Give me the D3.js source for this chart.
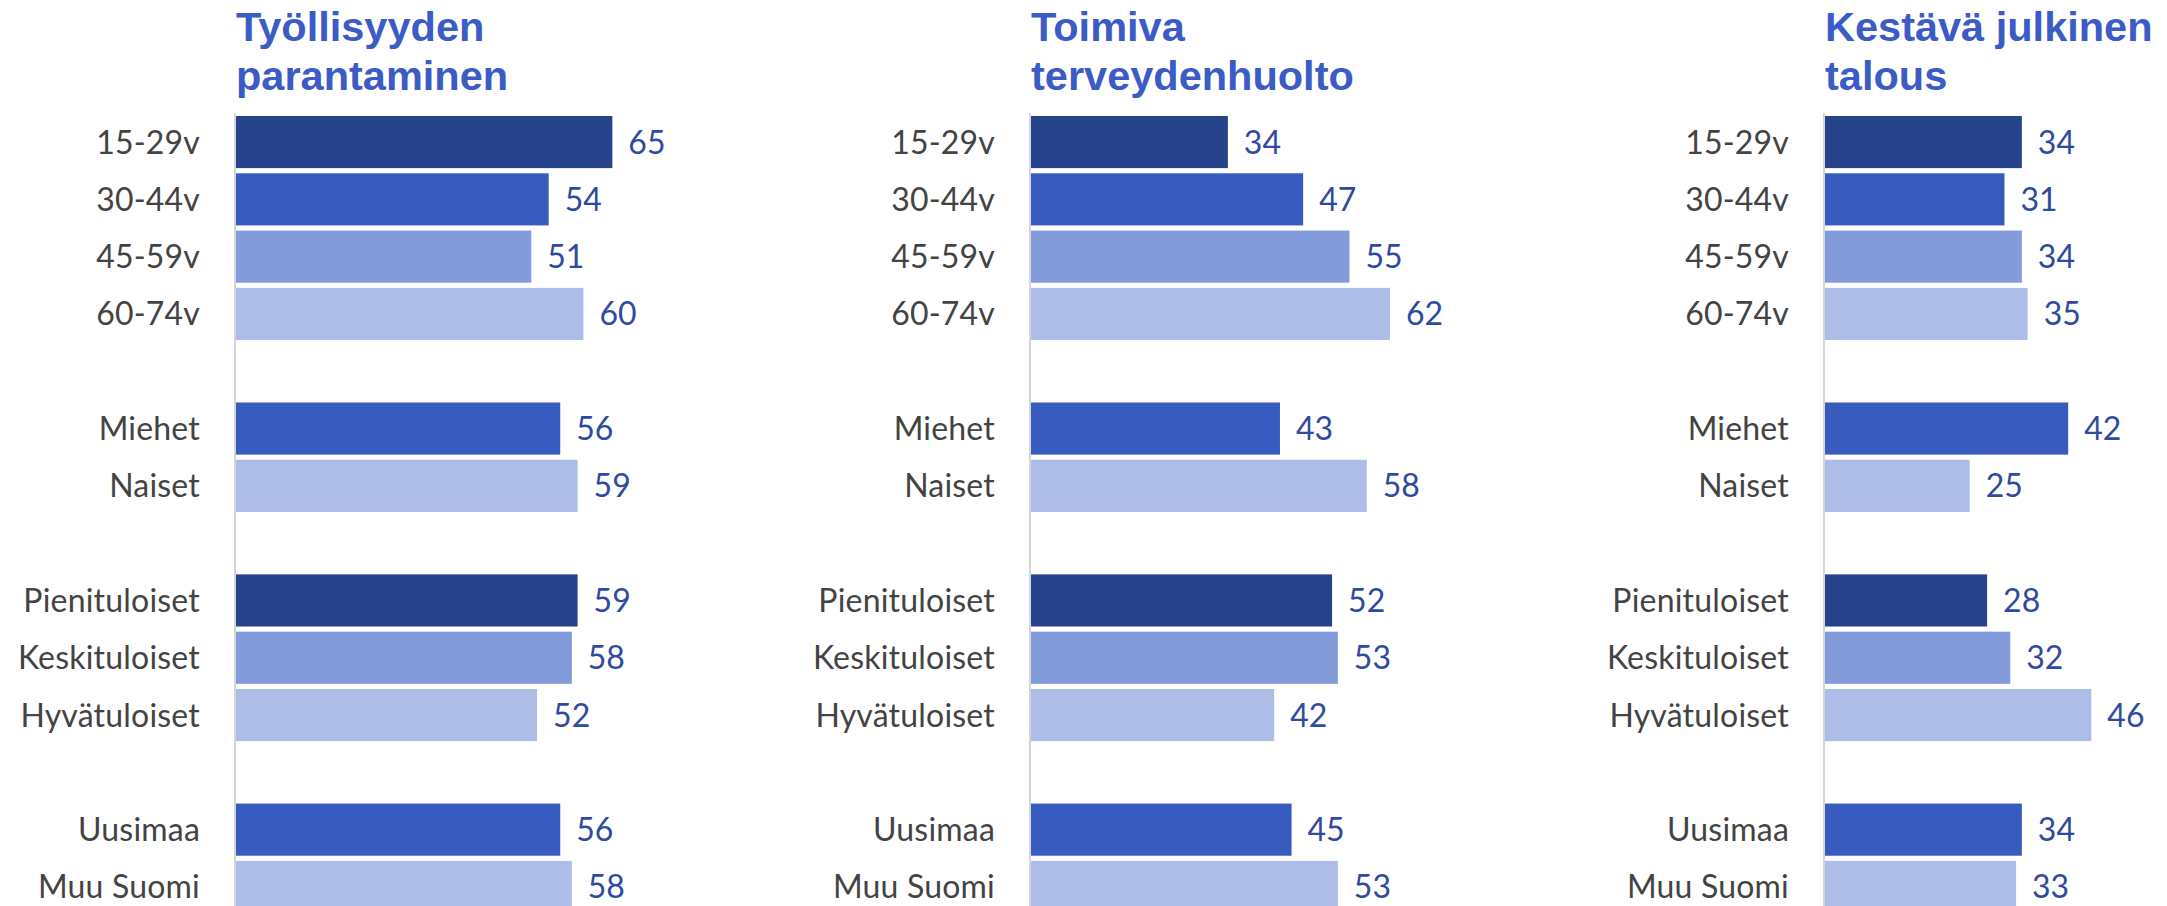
<!DOCTYPE html>
<html>
<head>
<meta charset="utf-8">
<script src="https://cdn.jsdelivr.net/npm/d3@7"></script>
<style>
  html, body { margin: 0; padding: 0; background: #fff; overflow: hidden; }
  .title { font-family: "Liberation Sans", Arial, sans-serif; font-weight: bold; font-size: 41.5px; fill: #3B5BC6; }
  .cat { font-family: Lato, "Open Sans", sans-serif; font-size: 32px; fill: #434343; letter-spacing: 0.2px; }
  .val { font-family: Lato, "Open Sans", sans-serif; font-size: 32px; fill: #2F4A9E; }
</style>
</head>
<body>
<div id="chart"></div>
<script>
"use strict"

// Categories, in their groups (an empty slot is left between groups)
var groups = [
    ["15-29v", "30-44v", "45-59v", "60-74v"],
    ["Miehet", "Naiset"],
    ["Pienituloiset", "Keskituloiset", "Hyvätuloiset"],
    ["Uusimaa", "Muu Suomi"]
]

// Shade used by each category, in the same order as the values
var shades = ["dark", "mid", "soft", "light", "mid", "light", "dark", "soft", "light", "mid", "light"]

// Panel titles (two lines each)
var titles = [
    ["Työllisyyden", "parantaminen"],
    ["Toimiva", "terveydenhuolto"],
    ["Kestävä julkinen", "talous"]
]

// Series values, one array per panel
var tyollisyys = [65, 54, 51, 60, 56, 59, 59, 58, 52, 56, 58]
var terveydenhuolto = [34, 47, 55, 62, 43, 58, 52, 53, 42, 45, 53]
var talous = [34, 31, 34, 35, 42, 25, 28, 32, 46, 34, 33]

var width = 2167
var height = 906
var axisX = [236, 1031, 1825] // left edge of each panel's bars
var shadeColor = { dark: "#27438B", mid: "#375BBF", soft: "#839BDB", light: "#ADBDE7" }

// Build the slot list with spacer keys between groups
var slots = []
var categories = []
groups.forEach(function (g, i) {
    if (i > 0) slots.push("gap" + i)
    g.forEach(function (c) { slots.push(c); categories.push(c) })
})

var step = 57.3
var yScale = d3.scaleBand()
    .domain(slots)
    .range([113.4, 113.4 + step * slots.length])
    .paddingInner(0.09)
    .paddingOuter(0.045)

var xScale = d3.scaleLinear().domain([0, 100]).range([0, 579])

var svg = d3.select("#chart").append("svg")
    .attr("width", width)
    .attr("height", height)

var series = [tyollisyys, terveydenhuolto, talous]

series.forEach(function (values, p) {
    var data = categories.map(function (c, i) {
        return { cat: c, value: values[i], shade: shades[i] }
    })

    var g = svg.append("g")
        .attr("transform", "translate(" + axisX[p] + ",0)")

    // Title
    var t = g.append("text").attr("class", "title").attr("x", 0).attr("y", 41)
    titles[p].forEach(function (line, i) {
        t.append("tspan").attr("x", 0).attr("dy", i === 0 ? 0 : 49).text(line)
    })

    // Bars
    g.selectAll(".bar").data(data).enter().append("rect")
        .attr("class", "bar")
        .attr("x", 0)
        .attr("y", function (d) { return yScale(d.cat) })
        .attr("width", function (d) { return xScale(d.value) })
        .attr("height", yScale.bandwidth())
        .attr("fill", function (d) { return shadeColor[d.shade] })

    // Vertical axis line
    g.append("line")
        .attr("x1", -1).attr("x2", -1)
        .attr("y1", 113).attr("y2", height)
        .attr("stroke", "#D6D6D6")
        .attr("stroke-width", 2)

    // Category labels
    g.selectAll(".cat").data(data).enter().append("text")
        .attr("class", "cat")
        .attr("x", -36)
        .attr("y", function (d) { return yScale(d.cat) + yScale.bandwidth() / 2 })
        .attr("dy", "0.36em")
        .attr("text-anchor", "end")
        .text(function (d) { return d.cat })

    // Value labels
    g.selectAll(".val").data(data).enter().append("text")
        .attr("class", "val")
        .attr("x", function (d) { return xScale(d.value) + 16 })
        .attr("y", function (d) { return yScale(d.cat) + yScale.bandwidth() / 2 })
        .attr("dy", "0.36em")
        .text(function (d) { return d.value })
})
</script>
</body>
</html>
